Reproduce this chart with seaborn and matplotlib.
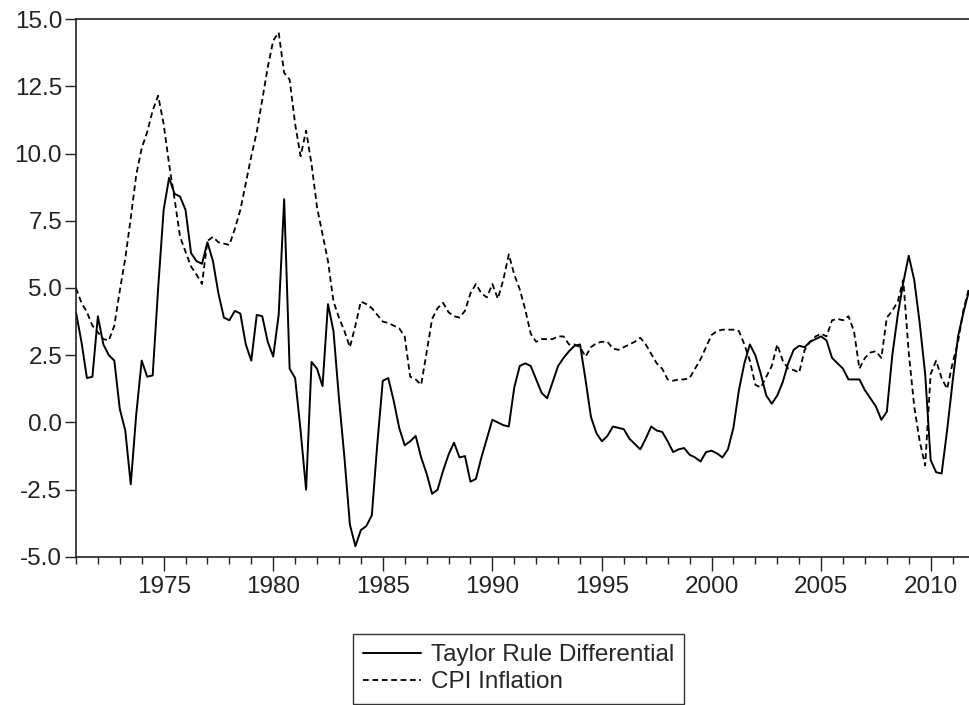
import numpy as np
import pandas as pd
import matplotlib
matplotlib.use("Agg")
from matplotlib import pyplot as plt
from matplotlib.ticker import MultipleLocator, FormatStrFormatter
import seaborn as sns

# quarterly, 1971Q1 .. 2011Q4
start_year = 1971

taylor_rule = [
    4.1, 3.0, 1.65, 1.7, 3.95, 2.9, 2.5, 2.3, 0.5, -0.3,
    -2.3, 0.3, 2.3, 1.7, 1.75, 5.0, 7.9, 9.1, 8.5, 8.4,
    7.9, 6.3, 6.0, 5.9, 6.7, 6.0, 4.8, 3.9, 3.8, 4.15,
    4.05, 2.9, 2.3, 4.0, 3.95, 3.0, 2.45, 4.0, 8.3, 2.0,
    1.65, -0.3, -2.5, 2.25, 2.0, 1.35, 4.4, 3.4, 0.9, -1.3,
    -3.8, -4.6, -4.0, -3.85, -3.45, -0.8, 1.55, 1.65, 0.8, -0.2,
    -0.85, -0.7, -0.5, -1.3, -1.9, -2.65, -2.5, -1.8, -1.2, -0.75,
    -1.3, -1.25, -2.2, -2.1, -1.3, -0.6, 0.1, 0.0, -0.1, -0.15,
    1.3, 2.1, 2.2, 2.1, 1.6, 1.1, 0.9, 1.5, 2.1, 2.4,
    2.65, 2.85, 2.9, 1.6, 0.2, -0.4, -0.7, -0.5, -0.15, -0.2,
    -0.25, -0.6, -0.8, -1.0, -0.6, -0.15, -0.3, -0.35, -0.7, -1.1,
    -1.0, -0.95, -1.2, -1.3, -1.45, -1.1, -1.05, -1.15, -1.3, -1.0,
    -0.2, 1.2, 2.2, 2.9, 2.5, 1.8, 1.0, 0.7, 1.0, 1.5,
    2.2, 2.7, 2.85, 2.8, 3.0, 3.1, 3.2, 3.05, 2.4, 2.2,
    2.0, 1.6, 1.6, 1.6, 1.2, 0.9, 0.6, 0.1, 0.4, 2.5,
    4.0, 5.2, 6.2, 5.3, 3.7, 1.8, -1.4, -1.85, -1.9, -0.3,
    1.5, 3.2, 4.1, 4.9,
]

cpi_inflation = [
    5.0, 4.45, 4.1, 3.6, 3.35, 3.1, 3.05, 3.6, 4.9, 6.1,
    7.6, 9.2, 10.2, 10.8, 11.6, 12.15, 11.1, 9.6, 8.3, 6.9,
    6.35, 5.8, 5.5, 5.15, 6.75, 6.9, 6.7, 6.65, 6.6, 7.2,
    7.9, 8.9, 9.9, 10.8, 12.0, 13.2, 14.2, 14.5, 13.0, 12.75,
    11.1, 9.9, 10.85, 9.6, 8.0, 7.0, 6.0, 4.5, 3.9, 3.4,
    2.8, 3.6, 4.5, 4.4, 4.25, 4.0, 3.75, 3.7, 3.6, 3.5,
    3.2, 1.7, 1.6, 1.4, 2.6, 3.85, 4.25, 4.45, 4.1, 3.95,
    3.9, 4.15, 4.8, 5.15, 4.8, 4.65, 5.15, 4.6, 5.3, 6.25,
    5.5, 4.95, 4.2, 3.3, 3.0, 3.1, 3.1, 3.1, 3.2, 3.2,
    2.9, 2.9, 2.8, 2.45, 2.8, 2.95, 3.0, 3.0, 2.75, 2.7,
    2.8, 2.9, 3.0, 3.15, 2.9, 2.55, 2.2, 2.0, 1.6, 1.55,
    1.6, 1.6, 1.65, 2.0, 2.35, 2.8, 3.25, 3.4, 3.45, 3.45,
    3.45, 3.4, 2.9, 2.3, 1.4, 1.3, 1.7, 2.1, 2.9, 2.3,
    2.0, 1.95, 1.85, 2.7, 3.0, 3.2, 3.3, 3.2, 3.8, 3.85,
    3.8, 3.95, 3.4, 2.0, 2.4, 2.6, 2.65, 2.4, 3.9, 4.15,
    4.5, 5.3, 2.6, 0.6, -0.7, -1.6, 1.8, 2.3, 1.65, 1.25,
    2.2, 3.0, 4.2, 5.0,
]

year_ticks = [1975, 1980, 1985, 1990, 1995, 2000, 2005, 2010]

quarters = np.arange(len(taylor_rule))
df = pd.DataFrame({
    "date": start_year + quarters / 4.0,
    "Taylor Rule Differential": taylor_rule,
    "CPI Inflation": cpi_inflation,
})

sns.set_style("ticks")
plt.rcParams["font.family"] = ["Liberation Sans", "DejaVu Sans"]
plt.rcParams["axes.unicode_minus"] = False

fig = plt.figure(figsize=(9.69, 7.05), dpi=100)
ax = fig.add_axes([0.0784, 0.21, 0.9216, 0.763])

sns.lineplot(data=df, x="date", y="Taylor Rule Differential", ax=ax,
             color="black", linewidth=1.4, label="Taylor Rule Differential")
sns.lineplot(data=df, x="date", y="CPI Inflation", ax=ax,
             color="black", linewidth=1.3, linestyle=(0, (3.2, 2.0)),
             label="CPI Inflation")

ax.set_xlim(df["date"].iloc[0], df["date"].iloc[-1])
ax.set_ylim(-5, 15)
ax.set_xticks(year_ticks)
ax.xaxis.set_minor_locator(MultipleLocator(1))
ax.yaxis.set_major_locator(MultipleLocator(2.5))
ax.yaxis.set_major_formatter(FormatStrFormatter("%.1f"))
ax.set_xlabel("")
ax.set_ylabel("")

ax.tick_params(axis="x", which="major", length=10, width=1, labelsize=17.5, pad=4, colors="#222222")
ax.tick_params(axis="x", which="minor", length=5, width=1, color="#222222")
ax.tick_params(axis="y", which="major", length=8, width=1, labelsize=17.5, pad=2, colors="#222222")

for side in ["left", "bottom", "top"]:
    ax.spines[side].set_linewidth(1.2)
    ax.spines[side].set_color("#222222")
ax.spines["right"].set_visible(False)

handles, labels = ax.get_legend_handles_labels()
ax.get_legend().remove()
leg = fig.legend(handles, labels, loc="upper center", bbox_to_anchor=(0.535, 0.101),
                 fontsize=17.5, frameon=True, fancybox=False, edgecolor="black",
                 handlelength=2.4, handletextpad=0.4, labelspacing=0.22,
                 borderpad=0.42, borderaxespad=0)
leg.get_frame().set_linewidth(1.0)

fig.savefig("out.png", dpi=100)
